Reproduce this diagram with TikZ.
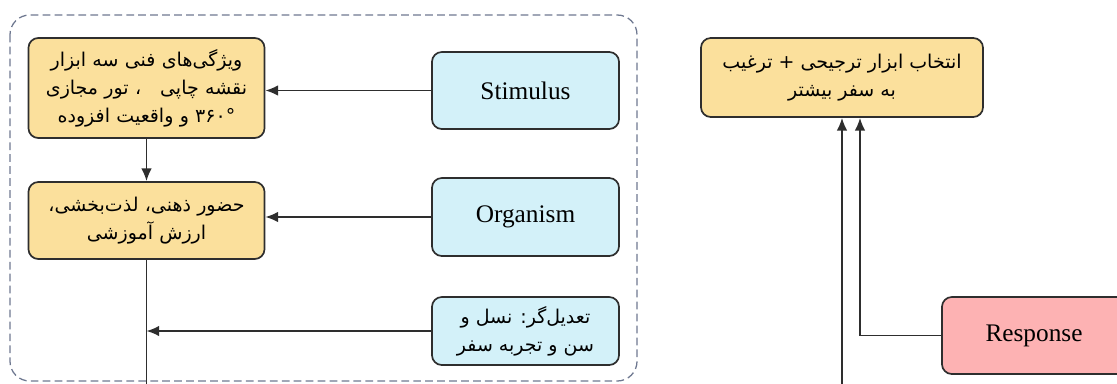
\documentclass[tikz,border=0pt]{standalone}
\usepackage{fontspec}
\setmainfont{Liberation Serif}
\newfontfamily\farsi[Script=Arabic]{DejaVu Sans}
\TeXXeTstate=1
\usetikzlibrary{arrows.meta}

\definecolor{boxline}{HTML}{2E2E2E}
\definecolor{yellowfill}{HTML}{FBE09C}
\definecolor{bluefill}{HTML}{D3F1F9}
\definecolor{pinkfill}{HTML}{FDB2B3}
\definecolor{frameline}{HTML}{6E7890}

\begin{document}
\begin{tikzpicture}[x=0.025cm,y=-0.025cm,
  box/.style={draw=boxline,line width=1.2pt,rounded corners=7pt,inner sep=0pt,align=center},
  farsitext/.style={font=\farsi\fontsize{13.5}{20}\selectfont},
  factor/.style={box,fill=yellowfill,text width=5.9cm,farsitext},
  smor/.style={box,fill=bluefill,minimum width=4.675cm,font=\fontsize{18}{20}\selectfont},
  link/.style={line width=1.2pt,draw=boxline,-{Latex[length=9pt,width=7.5pt]}}]

\clip (0,0) rectangle (1117,383);

% outer dashed frame
\draw[frameline,line width=0.9pt,dash pattern=on 5.5pt off 3pt,rounded corners=14pt] (10,15) rectangle (637,381);

\node[factor,minimum height=2.5cm] (feat) at (146.5,88) {\beginR ویژگی‌های فنی سه ابزار\endR\\ \beginR نقشه چاپی\quad ، تور مجازی\endR\\ \beginR ۳۶۰° و واقعیت افزوده\endR};
\node[factor,minimum height=1.925cm] (pres) at (146.5,220.5) {\beginR حضور ذهنی، لذت‌بخشی،\endR\\ \beginR ارزش آموزشی\endR};

\node[smor,minimum height=1.925cm] (stim) at (525.5,90.5) {Stimulus};
\node[smor,minimum height=1.95cm] (org) at (525.5,217) {Organism};
\node[box,fill=bluefill,minimum width=4.675cm,minimum height=1.7cm,farsitext] (mod) at (525.5,331) {\beginR تعدیل‌گر: نسل و\endR\\ \beginR سن و تجربه سفر\endR};

\node[box,fill=yellowfill,minimum width=7.05cm,minimum height=1.975cm,farsitext] (choice) at (842,77.5) {\beginR انتخاب ابزار ترجیحی + ترغیب\endR\\ \beginR به سفر بیشتر\endR};
\node[box,fill=pinkfill,minimum width=5cm,minimum height=1.925cm,font=\fontsize{18}{20}\selectfont] (resp) at (1042,335.5) {\hspace*{-0.4cm}Response};

\coordinate (down1) at (146.5,400);
\coordinate (down2) at (842,400);

\path (stim.west) edge[link] (feat.east |- stim.west)
  (org.west) edge[link] (pres.east |- org.west)
  (feat.south) edge[link] (pres.north)
  (mod.west) edge[link] (pres.south |- mod.west);
\draw[line width=1.2pt,boxline] (pres.south) -- (down1);
\draw[link] (down2) -- (choice.south -| down2);
\draw[link] (resp.west) -| ([xshift=18*0.025cm]choice.south);

\end{tikzpicture}
\end{document}
